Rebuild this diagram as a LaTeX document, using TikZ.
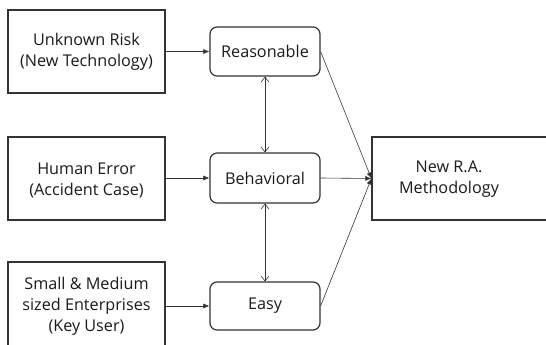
\documentclass[tikz,border=0pt]{standalone}
\usepackage{fontspec}
\setmainfont{Open Sans}
\usetikzlibrary{arrows.meta}
\definecolor{edge}{HTML}{333333}
\definecolor{txt}{HTML}{1A1A1A}
\begin{document}
\begin{tikzpicture}[x=1pt,y=-1pt,
  srcbox/.style={draw=edge,line width=1.2pt,rectangle,inner sep=0pt},
  midbox/.style={draw=edge,line width=1.2pt,rectangle,rounded corners=7pt,inner sep=0pt},
  lbl/.style={font=\fontsize{16.2}{21}\selectfont,text=txt,align=center},
  flow/.style={draw=edge,line width=0.6pt,-{Latex[length=6pt,width=5pt]}},
  twoway/.style={draw=edge,line width=0.6pt,{Straight Barb[length=5pt,width=8pt]}-{Straight Barb[length=5pt,width=8pt]}}]
\useasboundingbox (0,0) rectangle (546,345);
\clip (0,0) rectangle (546,345);
% left source boxes
\node[srcbox,minimum width=157pt,minimum height=83pt] (unk) at (86.5,51.5) {};
\node[lbl] at (unk.center) {Unknown Risk\\(New Technology)};
\node[srcbox,minimum width=157pt,minimum height=83pt] (hum) at (86.5,178.5) {};
\node[lbl] at (86.5,180) {Human Error\\(Accident Case)};
\node[srcbox,minimum width=157pt,minimum height=90pt] (sme) at (86.5,307) {};
\node[lbl] at (86.5,306) {Small \& Medium\\sized Enterprises\\(Key User)};
% middle rounded boxes
\node[midbox,minimum width=110pt,minimum height=49pt,lbl] (rea) at (265,51.5) {Reasonable};
\node[midbox,minimum width=110pt,minimum height=50pt,lbl] (beh) at (265,178) {Behavioral};
\node[midbox,minimum width=110pt,minimum height=48pt,lbl] (easy) at (265,306) {Easy};
% right box
\node[srcbox,minimum width=200pt,minimum height=83pt] (ra) at (472,178.5) {};
\node[lbl] at (449,179) {New R.A.\\Methodology};
% connectors
\draw[flow] (unk.east |- rea.west) -- (rea.west);
\draw[flow] (hum.east |- beh.west) -- (beh.west);
\draw[flow] (sme.east |- easy.west) -- (easy.west);
\draw[flow] (beh.east) -- (ra.west);
\draw[flow] (rea.east) -- (ra.west);
\draw[flow] (easy.east) -- (ra.west);
\draw[twoway] (rea.south) -- (beh.north);
\draw[twoway] (beh.south) -- (easy.north);
\end{tikzpicture}
\end{document}
